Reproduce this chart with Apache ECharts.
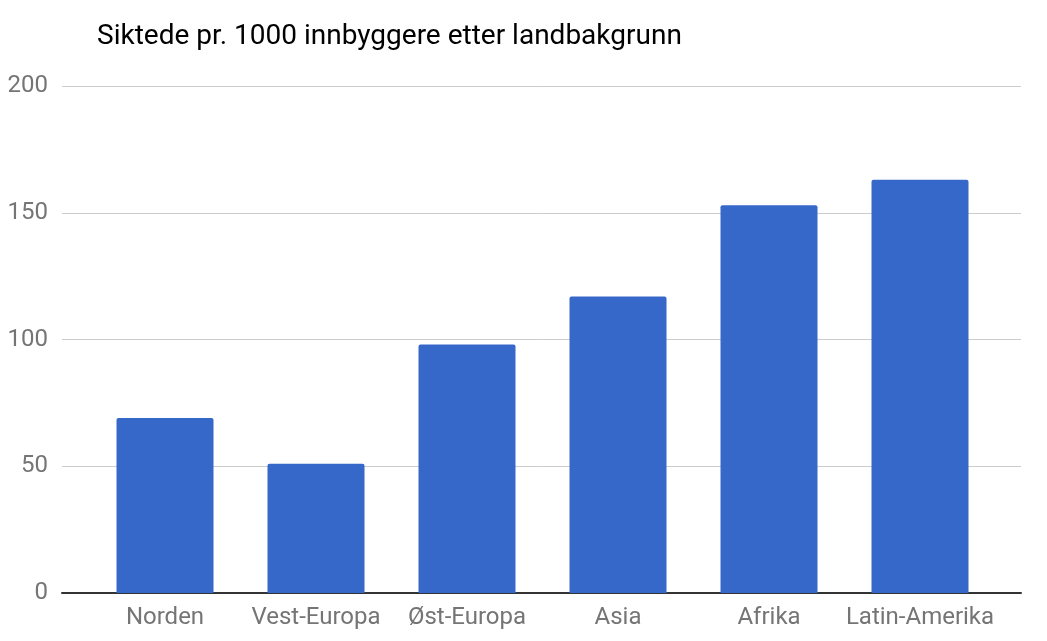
<!DOCTYPE html>
<html>
<head>
<meta charset="utf-8">
<script src="https://cdn.jsdelivr.net/npm/echarts@6/dist/echarts.min.js"></script>
<style>
  html, body { margin: 0; padding: 0; background: #fff; }
  #chart { width: 1047px; height: 641px; }
</style>
</head>
<body>
<div id="chart"></div>
<script>
  // data
  var categories = ['Norden', 'Vest-Europa', 'Øst-Europa', 'Asia', 'Afrika', 'Latin-Amerika'];
  var values = [69, 51, 98, 117, 153, 163];
  var yTicks = { min: 0, max: 200, interval: 50 };

  var chart = echarts.init(document.getElementById('chart'));
  var font = 'Roboto, Arial, sans-serif';

  chart.setOption({
    backgroundColor: '#ffffff',
    animation: false,
    title: {
      text: 'Siktede pr. 1000 innbyggere etter landbakgrunn',
      left: 92,
      top: 18,
      textStyle: { color: '#000', fontSize: 28, fontWeight: 'normal', fontFamily: font }
    },
    // grid 0: gridlines + baseline, wider; grid 1: the bars
    grid: [
      { left: 62, right: 26, top: 86, bottom: 48 },
      { left: 89.5, right: 51.5, top: 86, bottom: 48 }
    ],
    xAxis: [
      {
        gridIndex: 0, type: 'value', min: 0, max: 1,
        axisLine: { show: true, onZero: true, lineStyle: { color: '#333', width: 2 } },
        axisTick: { show: false }, axisLabel: { show: false }, splitLine: { show: false }
      },
      {
        gridIndex: 1, type: 'category', data: categories,
        axisLine: { show: false }, axisTick: { show: false },
        axisLabel: { color: '#757575', fontSize: 24, fontFamily: font, margin: 13, interval: 0 }
      }
    ],
    yAxis: [
      {
        gridIndex: 0, type: 'value', min: yTicks.min, max: yTicks.max, interval: yTicks.interval,
        axisLine: { show: false }, axisTick: { show: false },
        axisLabel: { color: '#757575', fontSize: 24, fontFamily: font, margin: 14 },
        splitLine: { lineStyle: { color: '#cccccc', width: 1 } }
      },
      {
        gridIndex: 1, type: 'value', min: yTicks.min, max: yTicks.max, interval: yTicks.interval,
        show: false
      }
    ],
    series: [
      {
        type: 'bar',
        xAxisIndex: 1,
        yAxisIndex: 1,
        data: values,
        barWidth: 97,
        itemStyle: { color: '#3668c9', borderRadius: [2, 2, 0, 0] },
        z: 1
      }
    ]
  });

  window.addEventListener('resize', function() { chart.resize(); });
</script>
</body>
</html>
